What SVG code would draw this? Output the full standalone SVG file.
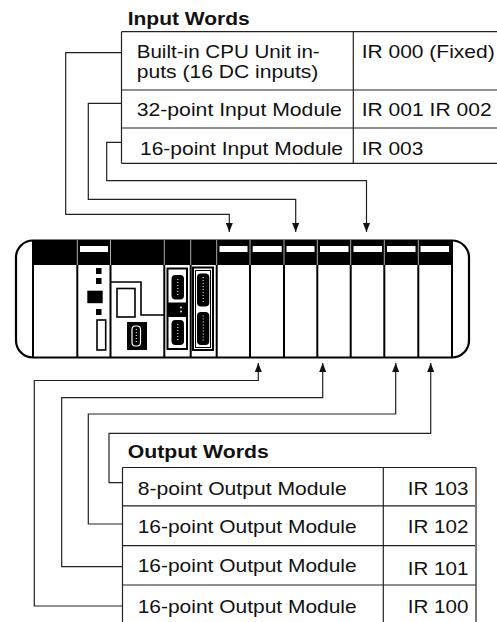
<svg xmlns="http://www.w3.org/2000/svg" width="497" height="622" viewBox="0 0 497 622">
<style>
.t{font-family:"Liberation Sans",Arial,sans-serif;font-size:19px;fill:#111}
.h{font-family:"Liberation Sans",Arial,sans-serif;font-size:18px;font-weight:bold;fill:#111}
.tl{stroke:#222;stroke-width:1.2;fill:none}
.cn{stroke:#222;stroke-width:1.2;fill:none}
.dv{stroke:#000;stroke-width:2}
.hd{stroke:#aaa;stroke-width:1}
.sl{fill:#fff}
.blk{fill:#000}
</style>
<defs>
<marker id="ah" markerUnits="userSpaceOnUse" markerWidth="10" markerHeight="7" refX="9" refY="3.5" orient="auto">
<path d="M0,0 L9,3.5 L0,7 z" fill="#111"/>
</marker>
</defs>
<rect width="497" height="622" fill="#fff"/>

<g id="input-table">
<text class="h" x="127.7" y="25" textLength="122" lengthAdjust="spacingAndGlyphs">Input Words</text>
<path class="tl" d="M121.5,31.7 H497 M121.5,90 H497 M121.5,128 H497 M121.5,163.3 H497 M121.5,31.7 V163.3 M353.3,31.7 V163.3"/>
<text class="t" x="136.7" y="57.5" textLength="183" lengthAdjust="spacingAndGlyphs">Built-in CPU Unit in-</text>
<text class="t" x="136.7" y="78" textLength="181.7" lengthAdjust="spacingAndGlyphs">puts (16 DC inputs)</text>
<text class="t" x="361.7" y="57.5" textLength="133" lengthAdjust="spacingAndGlyphs">IR 000 (Fixed)</text>
<text class="t" x="136.7" y="116.3" textLength="205" lengthAdjust="spacingAndGlyphs">32-point Input Module</text>
<text class="t" x="361.7" y="116.3" textLength="130" lengthAdjust="spacingAndGlyphs">IR 001 IR 002</text>
<text class="t" x="140" y="155" textLength="203" lengthAdjust="spacingAndGlyphs">16-point Input Module</text>
<text class="t" x="361.7" y="155" textLength="61.7" lengthAdjust="spacingAndGlyphs">IR 003</text>
</g>

<g id="plc">
<rect x="16" y="240.5" width="453" height="117" rx="17" ry="17" fill="#fff" stroke="#000" stroke-width="2.2"/>
<rect x="33" y="240" width="419" height="25" class="blk"/>
<g class="sl">
<rect x="80" y="246" width="28" height="6"/>
<rect x="219.5" y="246" width="28" height="6"/>
<rect x="252.7" y="246" width="29" height="6"/>
<rect x="286.5" y="246" width="28" height="6"/>
<rect x="320" y="246" width="28.5" height="6"/>
<rect x="353.5" y="246" width="28.5" height="6"/>
<rect x="387" y="246" width="28.5" height="6"/>
<rect x="420.5" y="246" width="28.5" height="6"/>
</g>
<path class="hd" d="M77.3,240 V265 M110.5,240 V265 M164.3,240 V265 M190.7,240 V265 M216.7,240 V265 M250,240 V265 M284,240 V265 M317.3,240 V265 M350.7,240 V265 M384.3,240 V265 M418.3,240 V265"/>
<path class="dv" d="M33,240 V357.5 M452,240 V357.5 M77.3,265 V357.5 M110.5,265 V357.5 M164.3,265 V357.5 M190.7,265 V357.5 M216.7,265 V357.5 M250,265 V357.5 M284,265 V357.5 M317.3,265 V357.5 M350.7,265 V357.5 M384.3,265 V357.5 M418.3,265 V357.5"/>
<g id="cpu">
<rect x="96" y="268" width="5.5" height="6" class="blk"/>
<rect x="96" y="278" width="5.5" height="6" class="blk"/>
<rect x="87.3" y="290.7" width="15.4" height="12.5" class="blk"/>
<rect x="96" y="309" width="5.5" height="6" class="blk"/>
<rect x="97" y="320" width="8.7" height="30" fill="#fff" stroke="#000" stroke-width="1.6"/>
</g>
<g id="peripheral">
<path d="M111,282 H141 V315 H164" fill="none" stroke="#000" stroke-width="1.6"/>
<rect x="117" y="288.5" width="18" height="28.5" fill="none" stroke="#000" stroke-width="1.6"/>
<rect x="127" y="322" width="20" height="28" class="blk"/>
<rect x="132" y="326" width="8.5" height="20" rx="3.5" fill="none" stroke="#fff" stroke-width="1.2"/>
<path d="M136.3,329 V343" stroke="#fff" stroke-width="1" stroke-dasharray="1,2"/>
</g>
<g id="comm">
<rect x="167.5" y="268.5" width="19.5" height="80.5" fill="#fff" stroke="#000" stroke-width="2"/>
<rect x="171.5" y="275" width="12.5" height="24.5" rx="4" class="blk"/>
<path d="M177.8,279 V296" stroke="#fff" stroke-width="1" stroke-dasharray="1,2"/>
<rect x="167.5" y="302.5" width="19.5" height="14.5" class="blk"/>
<circle cx="181" cy="307.5" r="0.9" fill="#fff"/>
<circle cx="181" cy="311.5" r="0.9" fill="#fff"/>
<rect x="171.5" y="320" width="12.5" height="25" rx="4" class="blk"/>
<path d="M177.8,324 V342" stroke="#fff" stroke-width="1" stroke-dasharray="1,2"/>
</g>
<g id="io-conn">
<rect x="193" y="267.5" width="20" height="82.5" fill="#fff" stroke="#000" stroke-width="2"/>
<rect x="195.5" y="270.5" width="15" height="77" fill="none" stroke="#000" stroke-width="1"/>
<rect x="197" y="273.5" width="12.3" height="33" rx="4" class="blk"/>
<path d="M203.2,277 V303" stroke="#fff" stroke-width="1" stroke-dasharray="1,2"/>
<rect x="197" y="312" width="12.3" height="33" rx="4" class="blk"/>
<path d="M203.2,315.5 V342" stroke="#fff" stroke-width="1" stroke-dasharray="1,2"/>
</g>
</g>

<g id="connectors">
<path class="cn" d="M121.5,52.7 H65.7 V214.3 H229.3 V232" marker-end="url(#ah)"/>
<path class="cn" d="M121.5,103.3 H88.3 V199.3 H295.7 V232" marker-end="url(#ah)"/>
<path class="cn" d="M121.5,142.3 H106.7 V180.7 H366.5 V232" marker-end="url(#ah)"/>
<path class="cn" d="M122.5,606 H34.3 V380.5 H258.3 V363" marker-end="url(#ah)"/>
<path class="cn" d="M122.5,566.7 H61.7 V397.7 H322.7 V363" marker-end="url(#ah)"/>
<path class="cn" d="M122.5,524 H88.3 V414 H395.7 V363" marker-end="url(#ah)"/>
<path class="cn" d="M122.5,482.7 H109 V433.3 H430.7 V363" marker-end="url(#ah)"/>
</g>

<g id="output-table">
<text class="h" x="127.7" y="458.3" textLength="141" lengthAdjust="spacingAndGlyphs">Output Words</text>
<path class="tl" d="M122.5,467.5 H476 M122.5,505.8 H475 M122.5,545.6 H475 M122.5,585 H476 M122.5,467.5 V622 M383.3,467.5 V622 M476,467.5 V622"/>
<text class="t" x="137.7" y="495" textLength="209" lengthAdjust="spacingAndGlyphs">8-point Output Module</text>
<text class="t" x="407.7" y="495" textLength="60.7" lengthAdjust="spacingAndGlyphs">IR 103</text>
<text class="t" x="137.7" y="533.3" textLength="219" lengthAdjust="spacingAndGlyphs">16-point Output Module</text>
<text class="t" x="407.7" y="533.3" textLength="60.7" lengthAdjust="spacingAndGlyphs">IR 102</text>
<text class="t" x="137.7" y="571.7" textLength="219" lengthAdjust="spacingAndGlyphs">16-point Output Module</text>
<text class="t" x="407.7" y="575" textLength="60.7" lengthAdjust="spacingAndGlyphs">IR 101</text>
<text class="t" x="137.7" y="613.3" textLength="219" lengthAdjust="spacingAndGlyphs">16-point Output Module</text>
<text class="t" x="407.7" y="613.3" textLength="60.7" lengthAdjust="spacingAndGlyphs">IR 100</text>
</g>
</svg>
